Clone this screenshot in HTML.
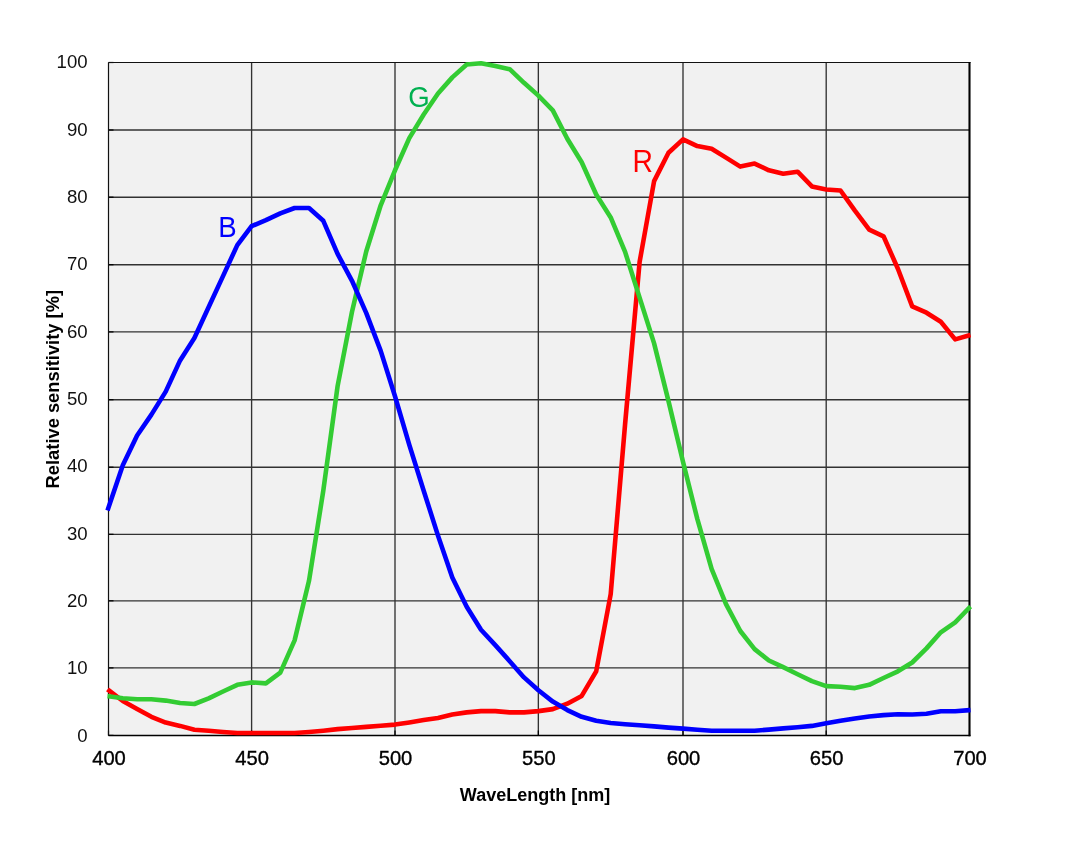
<!DOCTYPE html>
<html><head><meta charset="utf-8"><title>Spectral sensitivity</title>
<style>html,body{margin:0;padding:0;background:#fff;}body{width:1080px;height:850px;overflow:hidden;font-family:"Liberation Sans",sans-serif;}svg{display:block;will-change:transform;}text{font-family:"Liberation Sans",sans-serif;}</style></head><body>
<svg width="1080" height="850" viewBox="0 0 1080 850">
<rect x="0" y="0" width="1080" height="850" fill="#ffffff"/>
<rect x="108.5" y="62.5" width="861.0" height="673.0" fill="#f1f1f1"/>
<g stroke="#323232" stroke-width="1.35" fill="none"><line x1="108.5" y1="667.90" x2="969.5" y2="667.90"/><line x1="108.5" y1="600.80" x2="969.5" y2="600.80"/><line x1="108.5" y1="534.30" x2="969.5" y2="534.30"/><line x1="108.5" y1="467.20" x2="969.5" y2="467.20"/><line x1="108.5" y1="399.70" x2="969.5" y2="399.70"/><line x1="108.5" y1="331.90" x2="969.5" y2="331.90"/><line x1="108.5" y1="264.70" x2="969.5" y2="264.70"/><line x1="108.5" y1="197.20" x2="969.5" y2="197.20"/><line x1="108.5" y1="130.00" x2="969.5" y2="130.00"/><line x1="251.60" y1="62.5" x2="251.60" y2="735.5"/><line x1="395.00" y1="62.5" x2="395.00" y2="735.5"/><line x1="538.35" y1="62.5" x2="538.35" y2="735.5"/><line x1="683.00" y1="62.5" x2="683.00" y2="735.5"/><line x1="826.20" y1="62.5" x2="826.20" y2="735.5"/></g>
<g stroke="#000" stroke-width="1.2" fill="none"><line x1="108.5" y1="735.40" x2="113.5" y2="735.40"/><line x1="108.5" y1="667.90" x2="113.5" y2="667.90"/><line x1="108.5" y1="600.80" x2="113.5" y2="600.80"/><line x1="108.5" y1="534.30" x2="113.5" y2="534.30"/><line x1="108.5" y1="467.20" x2="113.5" y2="467.20"/><line x1="108.5" y1="399.70" x2="113.5" y2="399.70"/><line x1="108.5" y1="331.90" x2="113.5" y2="331.90"/><line x1="108.5" y1="264.70" x2="113.5" y2="264.70"/><line x1="108.5" y1="197.20" x2="113.5" y2="197.20"/><line x1="108.5" y1="130.00" x2="113.5" y2="130.00"/><line x1="108.5" y1="62.50" x2="113.5" y2="62.50"/><line x1="108.50" y1="730.5" x2="108.50" y2="735.5"/><line x1="251.60" y1="730.5" x2="251.60" y2="735.5"/><line x1="395.00" y1="730.5" x2="395.00" y2="735.5"/><line x1="538.35" y1="730.5" x2="538.35" y2="735.5"/><line x1="683.00" y1="730.5" x2="683.00" y2="735.5"/><line x1="826.20" y1="730.5" x2="826.20" y2="735.5"/><line x1="969.50" y1="730.5" x2="969.50" y2="735.5"/></g>
<g stroke="#111" fill="none">
<line x1="108.5" y1="62.5" x2="970.5" y2="62.5" stroke-width="1.2"/>
<line x1="108.5" y1="62.5" x2="108.5" y2="735.5" stroke-width="1.2"/>
<line x1="108.5" y1="735.5" x2="970.5" y2="735.5" stroke-width="1.6" stroke="#000"/>
<line x1="969.5" y1="62.0" x2="969.5" y2="736.2" stroke-width="2.1" stroke="#000"/>
</g>
<polyline fill="none" stroke="#ff0000" stroke-width="4.6" stroke-linejoin="round" stroke-linecap="butt" points="107.5,689.4 108.5,690.2 122.8,701.0 137.1,709.1 151.4,716.8 165.7,722.6 180.1,725.9 194.4,729.7 208.7,730.7 223.0,732.0 237.3,733.0 251.6,733.0 265.9,733.0 280.3,733.0 294.6,733.0 309.0,732.0 323.3,730.7 337.6,729.1 352.0,728.0 366.3,726.9 380.7,725.7 395.0,724.6 409.3,722.4 423.7,720.1 438.0,717.9 452.3,714.5 466.7,712.4 481.0,711.1 495.3,711.1 509.7,712.4 524.0,712.4 538.4,711.1 552.8,709.1 567.3,703.7 581.7,695.9 596.2,671.3 610.7,594.1 625.1,424.0 639.6,262.0 654.1,181.1 668.5,152.8 683.0,139.4 697.3,146.1 711.6,148.8 726.0,157.6 740.3,166.6 754.6,163.6 768.9,170.3 783.2,173.7 797.6,171.7 811.9,186.4 826.2,189.5 840.5,190.5 854.9,210.7 869.2,229.6 883.5,236.3 897.9,268.7 912.2,306.4 926.5,312.7 940.8,321.8 955.2,339.4 969.5,335.3 970.5,335.0"/>
<polyline fill="none" stroke="#33cc33" stroke-width="4.6" stroke-linejoin="round" stroke-linecap="butt" points="107.5,696.1 108.5,696.2 122.8,698.3 137.1,699.3 151.4,699.3 165.7,700.6 180.1,703.0 194.4,704.0 208.7,698.3 223.0,691.5 237.3,684.8 251.6,682.4 265.9,683.4 280.3,672.6 294.6,640.4 309.0,580.8 323.3,490.7 337.6,386.1 352.0,311.7 366.3,251.2 380.7,205.3 395.0,170.3 409.3,138.1 423.7,114.5 438.0,93.5 452.3,77.4 466.7,64.5 481.0,63.2 495.3,65.9 509.7,69.2 524.0,82.8 538.4,95.6 552.8,110.4 567.3,138.7 581.7,162.3 596.2,194.5 610.7,217.4 625.1,251.9 639.6,297.6 654.1,343.4 668.5,401.1 683.0,461.8 697.3,518.9 711.6,568.9 726.0,604.2 740.3,631.0 754.6,649.1 768.9,660.5 783.2,667.2 797.6,674.3 811.9,681.1 826.2,686.1 840.5,686.8 854.9,688.1 869.2,684.8 883.5,678.0 897.9,671.3 912.2,662.5 926.5,648.4 940.8,632.3 955.2,622.3 969.5,607.5 970.5,606.5"/>
<polyline fill="none" stroke="#0000ff" stroke-width="4.6" stroke-linejoin="round" stroke-linecap="butt" points="107.5,510.4 108.5,507.5 122.8,465.2 137.1,435.5 151.4,414.6 165.7,391.6 180.1,360.4 194.4,338.0 208.7,307.0 223.0,276.1 237.3,245.1 251.6,226.2 265.9,220.2 280.3,213.4 294.6,208.0 309.0,208.0 323.3,220.8 337.6,253.9 352.0,280.8 366.3,313.1 380.7,350.9 395.0,396.3 409.3,444.9 423.7,490.7 438.0,535.6 452.3,577.5 466.7,606.8 481.0,629.7 495.3,645.1 509.7,661.2 524.0,677.4 538.4,690.2 552.8,701.6 567.3,710.1 581.7,716.8 596.2,720.8 610.7,723.0 625.1,724.2 639.6,725.3 654.1,726.4 668.5,727.6 683.0,728.6 697.3,729.8 711.6,730.7 726.0,730.7 740.3,730.7 754.6,730.7 768.9,729.6 783.2,728.4 797.6,727.3 811.9,725.9 826.2,723.2 840.5,720.8 854.9,718.5 869.2,716.5 883.5,715.1 897.9,714.2 912.2,714.5 926.5,713.8 940.8,711.3 955.2,711.3 969.5,710.1 970.5,710.0"/>
<g font-size="18.6" fill="#111" text-anchor="end">
<text x="87.6" y="741.6">0</text>
<text x="87.6" y="674.2">10</text>
<text x="87.6" y="606.9">20</text>
<text x="87.6" y="539.6">30</text>
<text x="87.6" y="472.2">40</text>
<text x="87.6" y="404.9">50</text>
<text x="87.6" y="337.5">60</text>
<text x="87.6" y="270.2">70</text>
<text x="87.6" y="202.8">80</text>
<text x="87.6" y="135.5">90</text>
<text x="87.6" y="68.1">100</text>
</g>
<g font-size="20.2" fill="#000" stroke="#000" stroke-width="0.35" text-anchor="middle">
<text x="109.0" y="764.7">400</text>
<text x="252.1" y="764.7">450</text>
<text x="395.5" y="764.7">500</text>
<text x="538.9" y="764.7">550</text>
<text x="683.5" y="764.7">600</text>
<text x="826.7" y="764.7">650</text>
<text x="970.0" y="764.7">700</text>
</g>
<text x="535" y="800.6" font-size="17.6" font-weight="bold" fill="#000" text-anchor="middle" textLength="150.4" lengthAdjust="spacingAndGlyphs">WaveLength [nm]</text>
<text transform="translate(58.9,389.2) rotate(-90)" font-size="17.6" font-weight="bold" fill="#000" text-anchor="middle" textLength="198.4" lengthAdjust="spacingAndGlyphs">Relative sensitivity [%]</text>
<text transform="translate(218.2,237.3) scale(1,1.07)" font-size="27.6" fill="#0000ff">B</text>
<text transform="translate(408.2,106.6) scale(1,1.07)" font-size="27.6" fill="#00b050">G</text>
<text transform="translate(632.4,172.0) scale(1,1.08)" font-size="28.3" fill="#ff0000">R</text>
</svg></body></html>
